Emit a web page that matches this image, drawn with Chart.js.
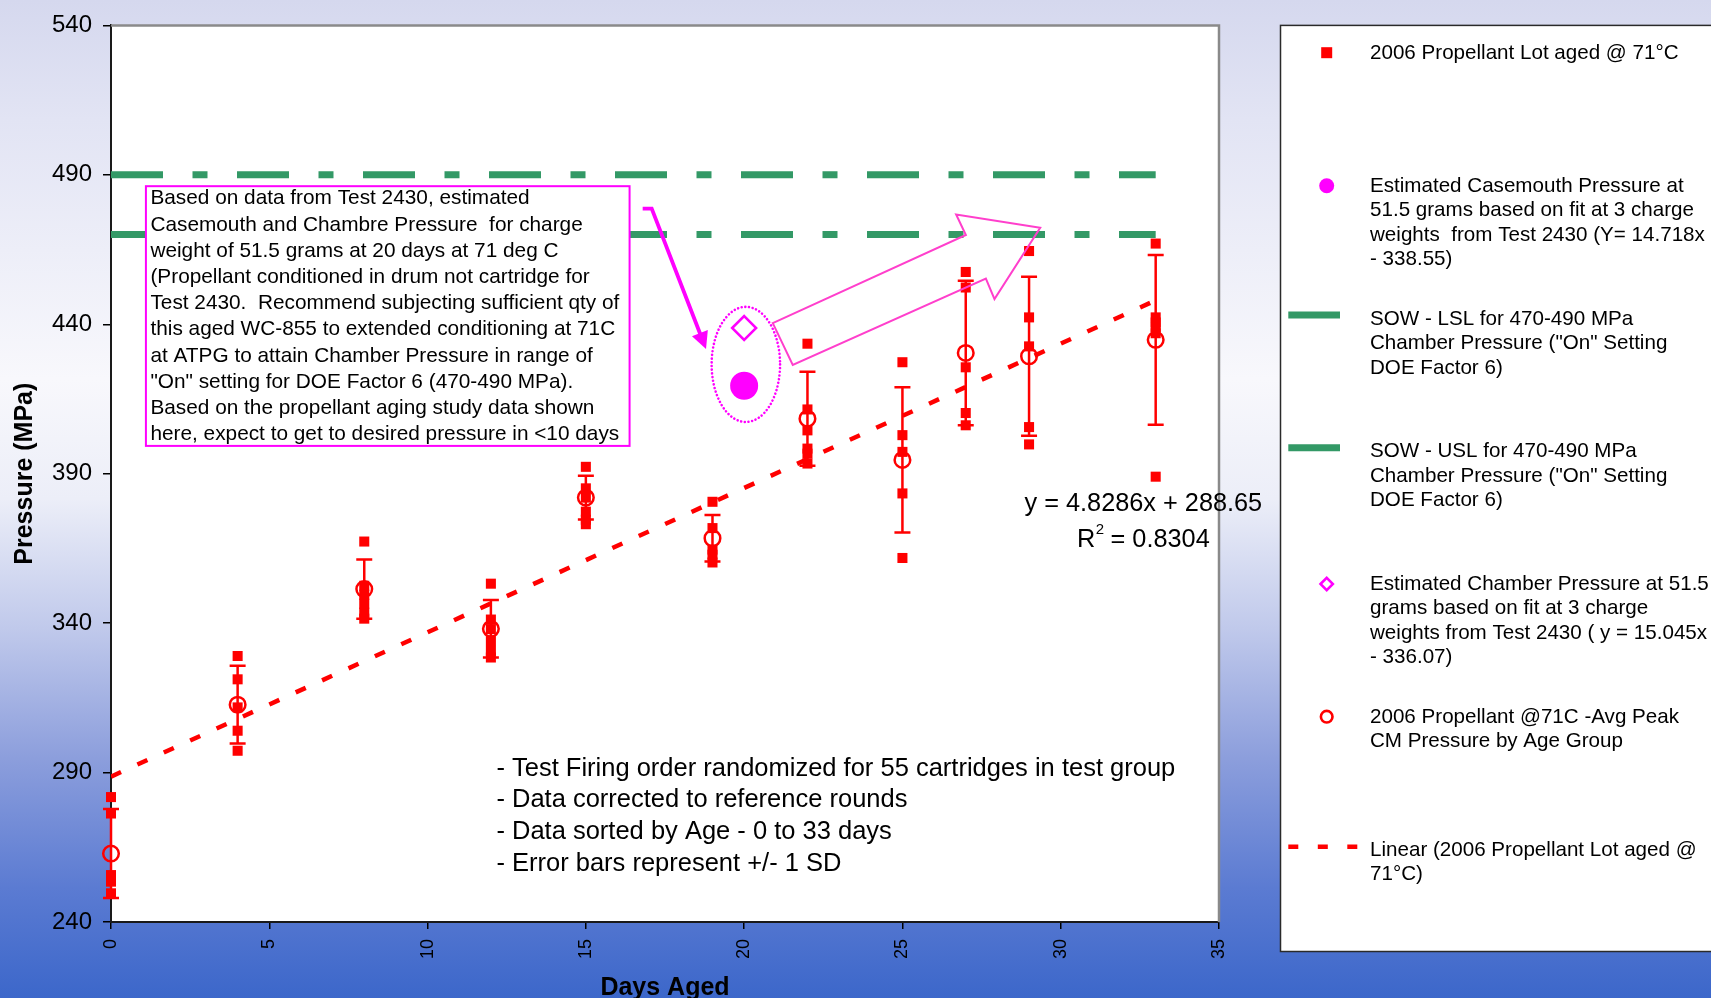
<!DOCTYPE html>
<html>
<head>
<meta charset="utf-8">
<title>Propellant aging study - chamber pressure vs days aged</title>
<script src="https://cdn.jsdelivr.net/npm/chart.js@4.4.1/dist/chart.umd.min.js"></script>
<style>
  html, body { margin: 0; padding: 0; background: #ffffff; }
  canvas { display: block; }
</style>
</head>
<body>
<canvas id="pressureChart" width="1711" height="998"></canvas>
<script>
const FONT = '"Liberation Sans", Arial, Helvetica, sans-serif';

// ---- Data ---------------------------------------------------------------
// Individual corrected peak pressures (MPa), one entry per cartridge
const shotDays = [
  0, 0, 0, 0, 0,
  4, 4, 4, 4, 4,
  8, 8, 8, 8, 8, 8,
  12, 12, 12, 12, 12, 12,
  15, 15, 15, 15, 15, 15,
  19, 19, 19, 19, 19,
  22, 22, 22, 22, 22, 22,
  25, 25, 25, 25, 25,
  27, 27, 27, 27, 27,
  29, 29, 29, 29, 29,
  33, 33, 33, 33, 33, 33
];
const shotPressure = [
  281.8, 276.3, 255.7, 253.5, 249.6,
  329.0, 321.2, 311.8, 304.0, 297.3,
  367.3, 352.5, 349.5, 346.5, 343.5, 341.5,
  353.2, 341.2, 338.0, 334.0, 330.7, 328.5,
  392.3, 385.1, 382.0, 377.3, 374.6, 373.1,
  380.6, 371.8, 364.6, 362.9, 360.3,
  433.5, 411.5, 404.5, 398.4, 396.7, 393.4,
  427.3, 402.9, 397.3, 383.4, 361.8,
  457.5, 452.3, 425.6, 410.3, 406.2,
  464.5, 442.3, 432.6, 405.6, 399.8,
  467.0, 442.3, 440.6, 439.0, 437.0, 389.0
];

// Average peak CM pressure per age group and its standard deviation
const avgDays     = [0, 4, 8, 12, 15, 19, 22, 25, 27, 29, 33];
const avgPressure = [262.9, 312.7, 351.4, 338.1, 382.0, 368.4, 408.4, 394.6, 430.4, 429.3, 434.8];
const avgSD       = [14.9, 13.0, 9.9, 9.6, 7.3, 7.8, 15.7, 24.3, 24.2, 26.6, 28.4];

// Estimates at 51.5 g charge weight, 20 days (Test 2430 fits)
const estDays = [20];
const estCasemouth = [419.43];
const estChamber = [438.75];

// SOW spec limits for the "On" setting of DOE Factor 6
const specDays = [0, 33];
const lslPressure = [470, 470];
const uslPressure = [490, 490];

// Linear fit of the individual shots: y = 4.8286x + 288.65
const trendDays = [0, 33];
const trendPressure = [288.65, 447.99];

// Axis ranges and tick spacing
const xRange = [0, 35];
const xStep = 5;
const yRange = [240, 540];
const yStep = 50;

// Text
const noteBoxLines = [
  'Based on data from Test 2430, estimated',
  'Casemouth and Chambre Pressure  for charge',
  'weight of 51.5 grams at 20 days at 71 deg C',
  '(Propellant conditioned in drum not cartridge for',
  'Test 2430.  Recommend subjecting sufficient qty of',
  'this aged WC-855 to extended conditioning at 71C',
  'at ATPG to attain Chamber Pressure in range of',
  '"On" setting for DOE Factor 6 (470-490 MPa).',
  'Based on the propellant aging study data shown',
  'here, expect to get to desired pressure in <10 days'
];
const methodNotes = [
  '- Test Firing order randomized for 55 cartridges in test group',
  '- Data corrected to reference rounds',
  '- Data sorted by Age - 0 to 33 days',
  '- Error bars represent +/- 1 SD'
];
const fitEquation = 'y = 4.8286x + 288.65';
const fitR2 = '0.8304';

const legendEntries = [
  { marker: 'square',  lines: ['2006 Propellant Lot aged @ 71°C'] },
  { marker: 'disc',    lines: ['Estimated Casemouth Pressure at', '51.5 grams based on fit at 3 charge', 'weights  from Test 2430 (Y= 14.718x', '- 338.55)'] },
  { marker: 'green',   lines: ['SOW - LSL for 470-490 MPa', 'Chamber Pressure ("On" Setting', 'DOE Factor 6)'] },
  { marker: 'green',   lines: ['SOW - USL for 470-490 MPa', 'Chamber Pressure ("On" Setting', 'DOE Factor 6)'] },
  { marker: 'diamond', lines: ['Estimated Chamber Pressure at 51.5', 'grams based on fit at 3 charge', 'weights from Test 2430 ( y = 15.045x', '- 336.07)'] },
  { marker: 'ring',    lines: ['2006 Propellant @71C -Avg Peak', 'CM Pressure by Age Group'] },
  { marker: 'dash',    lines: ['Linear (2006 Propellant Lot aged @', '71°C)'] }
];

// ---- Styling ------------------------------------------------------------
const RED = '#ff0000';
const MAGENTA = '#ff00ff';
const PINK = '#ff3fcc';
const GREEN = '#339966';
const SPEC_DASH = [52, 29.5, 15, 29.5];
const TREND_DASH = [11, 18];

// Annotation geometry, in axis units (days, MPa)
const callout = { x0: 1.103, x1: 16.381, yTop: 486.2, yBottom: 399.3 };
const pointerPath = [[16.795, 478.72], [17.08, 478.72], [18.796, 431.74]];
const highlightEllipse = { x: 20.054, y: 426.57, rxDays: 1.081, ryMPa: 19.26 };
const blockArrow = [
  [20.904, 440.4], [27.004, 469.86], [26.697, 476.72], [29.352, 472.29],
  [27.908, 448.4], [27.636, 455.3], [21.536, 426.4]
];
const notesAnchor = { x: 12.174, y: 291.3 };
const equationAnchor = { x: 32.61, y1: 379.9, y2: 367.9 };

// ---- Helpers -------------------------------------------------------------
const zip = (xs, ys) => xs.map((x, i) => ({ x, y: ys[i] }));
function px(chart, x, y) {
  return [chart.scales.x.getPixelForValue(x), chart.scales.y.getPixelForValue(y)];
}

// Page background and plot area fill
const backdropPlugin = {
  id: 'backdrop',
  beforeDraw(chart) {
    const { ctx, width, height, chartArea: a } = chart;
    ctx.save();
    const g = ctx.createLinearGradient(0, 0, 0, height);
    g.addColorStop(0.00, '#d5d8ee');
    g.addColorStop(0.12, '#e2e4f4');
    g.addColorStop(0.38, '#f8f8fc');
    g.addColorStop(0.50, '#eceef8');
    g.addColorStop(0.63, '#c0c9eb');
    g.addColorStop(0.76, '#8c9edc');
    g.addColorStop(0.89, '#5b7bd2');
    g.addColorStop(1.00, '#3c67ca');
    ctx.fillStyle = g;
    ctx.fillRect(0, 0, width, height);
    ctx.fillStyle = '#ffffff';
    ctx.fillRect(a.left, a.top, a.right - a.left, a.bottom - a.top);
    ctx.restore();
  },
  beforeDatasetsDraw(chart) {
    const { ctx, chartArea: a } = chart;
    ctx.save();
    ctx.strokeStyle = '#8a8a8a';
    ctx.lineWidth = 2.5;
    ctx.beginPath();
    ctx.moveTo(a.left, a.top);
    ctx.lineTo(a.right, a.top);
    ctx.lineTo(a.right, a.bottom);
    ctx.stroke();
    ctx.restore();
  }
};

// +/- 1 SD error bars on the group averages
const errorBarPlugin = {
  id: 'errorBars',
  afterDatasetsDraw(chart) {
    const { ctx } = chart;
    ctx.save();
    ctx.strokeStyle = RED;
    ctx.lineWidth = 2.5;
    ctx.lineCap = 'butt';
    avgDays.forEach((d, i) => {
      const [x, yHi] = px(chart, d, avgPressure[i] + avgSD[i]);
      const [, yLo] = px(chart, d, avgPressure[i] - avgSD[i]);
      ctx.beginPath();
      ctx.moveTo(x, yHi); ctx.lineTo(x, yLo);
      ctx.moveTo(x - 8, yHi); ctx.lineTo(x + 8, yHi);
      ctx.moveTo(x - 8, yLo); ctx.lineTo(x + 8, yLo);
      ctx.stroke();
    });
    ctx.restore();
  }
};

// Callout box, pointer arrows, highlight ellipse and text notes
const annotationPlugin = {
  id: 'annotations',
  afterDatasetsDraw(chart) {
    const { ctx } = chart;
    ctx.save();

    // Callout text box
    const [bx0, by0] = px(chart, callout.x0, callout.yTop);
    const [bx1, by1] = px(chart, callout.x1, callout.yBottom);
    ctx.fillStyle = '#ffffff';
    ctx.fillRect(bx0, by0, bx1 - bx0, by1 - by0);
    ctx.strokeStyle = MAGENTA;
    ctx.lineWidth = 2;
    ctx.strokeRect(bx0, by0, bx1 - bx0, by1 - by0);
    ctx.fillStyle = '#000000';
    ctx.font = `20.8px ${FONT}`;
    ctx.textBaseline = 'middle';
    ctx.textAlign = 'left';
    noteBoxLines.forEach((t, i) => ctx.fillText(t, bx0 + 4.5, by0 + 12.4 + i * 26.2));

    // Pointer from the callout down to the estimates
    const pts = pointerPath.map(p => px(chart, p[0], p[1]));
    ctx.strokeStyle = MAGENTA;
    ctx.fillStyle = MAGENTA;
    ctx.lineWidth = 3.8;
    ctx.lineJoin = 'miter';
    const tip = pts[2], prev = pts[1];
    const dx = tip[0] - prev[0], dy = tip[1] - prev[1];
    const len = Math.hypot(dx, dy), ux = dx / len, uy = dy / len;
    const headLen = 17, headHalf = 8.5;
    ctx.beginPath();
    ctx.moveTo(pts[0][0], pts[0][1]);
    ctx.lineTo(pts[1][0], pts[1][1]);
    ctx.lineTo(tip[0] - ux * (headLen - 2), tip[1] - uy * (headLen - 2));
    ctx.stroke();
    ctx.beginPath();
    ctx.moveTo(tip[0], tip[1]);
    ctx.lineTo(tip[0] - ux * headLen + uy * headHalf, tip[1] - uy * headLen - ux * headHalf);
    ctx.lineTo(tip[0] - ux * headLen - uy * headHalf, tip[1] - uy * headLen + ux * headHalf);
    ctx.closePath();
    ctx.fill();

    // Dotted ellipse around the two estimates
    const [ex, ey] = px(chart, highlightEllipse.x, highlightEllipse.y);
    const rx = px(chart, highlightEllipse.x + highlightEllipse.rxDays, highlightEllipse.y)[0] - ex;
    const ry = ey - px(chart, highlightEllipse.x, highlightEllipse.y + highlightEllipse.ryMPa)[1];
    ctx.setLineDash([0.01, 3.7]);
    ctx.lineCap = 'round';
    ctx.lineWidth = 2.6;
    ctx.beginPath();
    ctx.ellipse(ex, ey, rx, ry, 0, 0, Math.PI * 2);
    ctx.stroke();
    ctx.setLineDash([]);
    ctx.lineCap = 'butt';

    // Hollow block arrow toward the spec band
    const arrowPts = blockArrow.map(p => px(chart, p[0], p[1]));
    ctx.strokeStyle = PINK;
    ctx.lineWidth = 2;
    ctx.beginPath();
    arrowPts.forEach((p, i) => (i ? ctx.lineTo(p[0], p[1]) : ctx.moveTo(p[0], p[1])));
    ctx.closePath();
    ctx.stroke();

    // Method notes
    const [nx, ny] = px(chart, notesAnchor.x, notesAnchor.y);
    ctx.fillStyle = '#000000';
    ctx.font = `25.5px ${FONT}`;
    ctx.textAlign = 'left';
    ctx.textBaseline = 'middle';
    methodNotes.forEach((t, i) => ctx.fillText(t, nx, ny + i * 31.6));

    // Trendline equation and R squared
    const [qx, qy1] = px(chart, equationAnchor.x, equationAnchor.y1);
    const [, qy2] = px(chart, equationAnchor.x, equationAnchor.y2);
    ctx.font = `25.3px ${FONT}`;
    ctx.textAlign = 'center';
    ctx.fillText(fitEquation, qx, qy1);
    const base = 'R', sup = '2', rest = ' = ' + fitR2;
    const wBase = ctx.measureText(base).width;
    const wRest = ctx.measureText(rest).width;
    ctx.font = `15px ${FONT}`;
    const wSup = ctx.measureText(sup).width;
    const startX = qx - (wBase + wSup + wRest) / 2;
    ctx.textAlign = 'left';
    ctx.font = `25.3px ${FONT}`;
    ctx.fillText(base, startX, qy2);
    ctx.fillText(rest, startX + wBase + wSup, qy2);
    ctx.font = `15px ${FONT}`;
    ctx.fillText(sup, startX + wBase + 0.5, qy2 - 10);

    ctx.restore();
  }
};

// Legend panel on the right
const legendPlugin = {
  id: 'sideLegend',
  afterDraw(chart) {
    const { ctx } = chart;
    const left = 1280.5, top = chart.chartArea.top, bottom = 951.5;
    const markerX = 1326.7, lineX0 = 1288.3, lineX1 = 1340, textX = 1370;
    const markerY = [52.7, 185.7, 315, 447.7, 584, 716.7, 846.7];
    const textY = [53.7, 186.3, 319.3, 451.5, 584.3, 717, 850.3];
    const lineGap = 24.4;
    ctx.save();
    ctx.fillStyle = '#ffffff';
    ctx.fillRect(left, top, chart.width - left + 5, bottom - top);
    ctx.strokeStyle = '#2a2a2a';
    ctx.lineWidth = 1.5;
    ctx.strokeRect(left, top, chart.width - left + 5, bottom - top);

    legendEntries.forEach((e, i) => {
      const y = markerY[i];
      ctx.setLineDash([]);
      switch (e.marker) {
        case 'square':
          ctx.fillStyle = RED;
          ctx.fillRect(markerX - 5.5, y - 5.5, 11, 11);
          break;
        case 'disc':
          ctx.fillStyle = MAGENTA;
          ctx.beginPath(); ctx.arc(markerX, y, 7.5, 0, Math.PI * 2); ctx.fill();
          break;
        case 'green':
          ctx.strokeStyle = GREEN; ctx.lineWidth = 7;
          ctx.beginPath(); ctx.moveTo(lineX0, y); ctx.lineTo(lineX1, y); ctx.stroke();
          break;
        case 'diamond':
          ctx.strokeStyle = MAGENTA; ctx.lineWidth = 2.5;
          ctx.beginPath();
          ctx.moveTo(markerX - 6.2, y); ctx.lineTo(markerX, y - 6.2);
          ctx.lineTo(markerX + 6.2, y); ctx.lineTo(markerX, y + 6.2);
          ctx.closePath(); ctx.stroke();
          break;
        case 'ring':
          ctx.strokeStyle = RED; ctx.lineWidth = 2.6;
          ctx.beginPath(); ctx.arc(markerX, y, 5.8, 0, Math.PI * 2); ctx.stroke();
          break;
        case 'dash':
          ctx.strokeStyle = RED; ctx.lineWidth = 4.5;
          ctx.setLineDash([10, 19.5]);
          ctx.beginPath(); ctx.moveTo(lineX0, y); ctx.lineTo(1358, y); ctx.stroke();
          ctx.setLineDash([]);
          break;
      }
      ctx.fillStyle = '#000000';
      ctx.font = `20.6px ${FONT}`;
      ctx.textAlign = 'left';
      ctx.textBaseline = 'middle';
      e.lines.forEach((t, k) => ctx.fillText(t, textX, textY[i] + k * lineGap));
    });
    ctx.restore();
  }
};

// ---- Chart ----------------------------------------------------------------
const tickFontX = { family: FONT, size: 18 };
const tickFontY = { family: FONT, size: 24 };
const titleFontX = { family: FONT, size: 25, weight: 'bold', lineHeight: 0.82 };
const titleFontY = { family: FONT, size: 25, weight: 'bold', lineHeight: 1.1 };

new Chart(document.getElementById('pressureChart'), {
  type: 'scatter',
  data: {
    datasets: [
      {
        label: legendEntries[0].lines.join(' '),
        data: zip(shotDays, shotPressure),
        pointStyle: 'rect',
        pointRadius: 7.1,
        backgroundColor: RED,
        borderWidth: 0,
        clip: false,
        order: 1
      },
      {
        label: legendEntries[1].lines.join(' '),
        data: zip(estDays, estCasemouth),
        pointStyle: 'circle',
        pointRadius: 14,
        backgroundColor: MAGENTA,
        borderWidth: 0,
        order: 0
      },
      {
        label: legendEntries[2].lines.join(' '),
        type: 'line',
        data: zip(specDays, lslPressure),
        borderColor: GREEN,
        borderWidth: 7,
        borderDash: SPEC_DASH,
        borderCapStyle: 'butt',
        pointRadius: 0,
        fill: false,
        order: 6
      },
      {
        label: legendEntries[3].lines.join(' '),
        type: 'line',
        data: zip(specDays, uslPressure),
        borderColor: GREEN,
        borderWidth: 7,
        borderDash: SPEC_DASH,
        borderCapStyle: 'butt',
        pointRadius: 0,
        fill: false,
        order: 6
      },
      {
        label: legendEntries[4].lines.join(' '),
        data: zip(estDays, estChamber),
        pointStyle: 'rectRot',
        pointRadius: 12,
        backgroundColor: 'rgba(0,0,0,0)',
        borderColor: MAGENTA,
        borderWidth: 2.5,
        order: 0
      },
      {
        label: legendEntries[5].lines.join(' '),
        data: zip(avgDays, avgPressure),
        pointStyle: 'circle',
        pointRadius: 7.8,
        backgroundColor: 'rgba(0,0,0,0)',
        borderColor: RED,
        borderWidth: 2.5,
        clip: false,
        order: 2
      },
      {
        label: legendEntries[6].lines.join(' '),
        type: 'line',
        data: zip(trendDays, trendPressure),
        borderColor: RED,
        borderWidth: 4.5,
        borderDash: TREND_DASH,
        borderCapStyle: 'butt',
        pointRadius: 0,
        fill: false,
        order: 3
      }
    ]
  },
  options: {
    responsive: false,
    animation: false,
    devicePixelRatio: 1,
    events: [],
    layout: { padding: { left: 0, top: 22, right: 492, bottom: 0 } },
    plugins: {
      legend: { display: false },
      tooltip: { enabled: false }
    },
    scales: {
      x: {
        type: 'linear',
        min: xRange[0],
        max: xRange[1],
        afterFit: s => { s.height = 76; },
        ticks: {
          stepSize: xStep,
          autoSkip: false,
          maxRotation: 90,
          minRotation: 90,
          padding: 10,
          color: '#000000',
          font: tickFontX
        },
        grid: { drawOnChartArea: false, drawTicks: true, tickLength: 7, color: '#000000', lineWidth: 1.5 },
        border: { display: true, color: '#1a1a1a', width: 2 },
        title: { display: true, text: 'Days Aged', color: '#000000', font: titleFontX, padding: { top: 0, bottom: 0 } }
      },
      y: {
        min: yRange[0],
        max: yRange[1],
        afterFit: s => { s.width = 111; },
        ticks: {
          stepSize: yStep,
          padding: 11,
          color: '#000000',
          font: tickFontY
        },
        grid: { drawOnChartArea: false, drawTicks: true, tickLength: 8, color: '#000000', lineWidth: 1.5 },
        border: { display: true, color: '#1a1a1a', width: 2 },
        title: { display: true, text: 'Pressure (MPa)', color: '#000000', font: titleFontY, padding: { top: 11.5, bottom: 0 } }
      }
    }
  },
  plugins: [backdropPlugin, errorBarPlugin, annotationPlugin, legendPlugin]
});
</script>
</body>
</html>
